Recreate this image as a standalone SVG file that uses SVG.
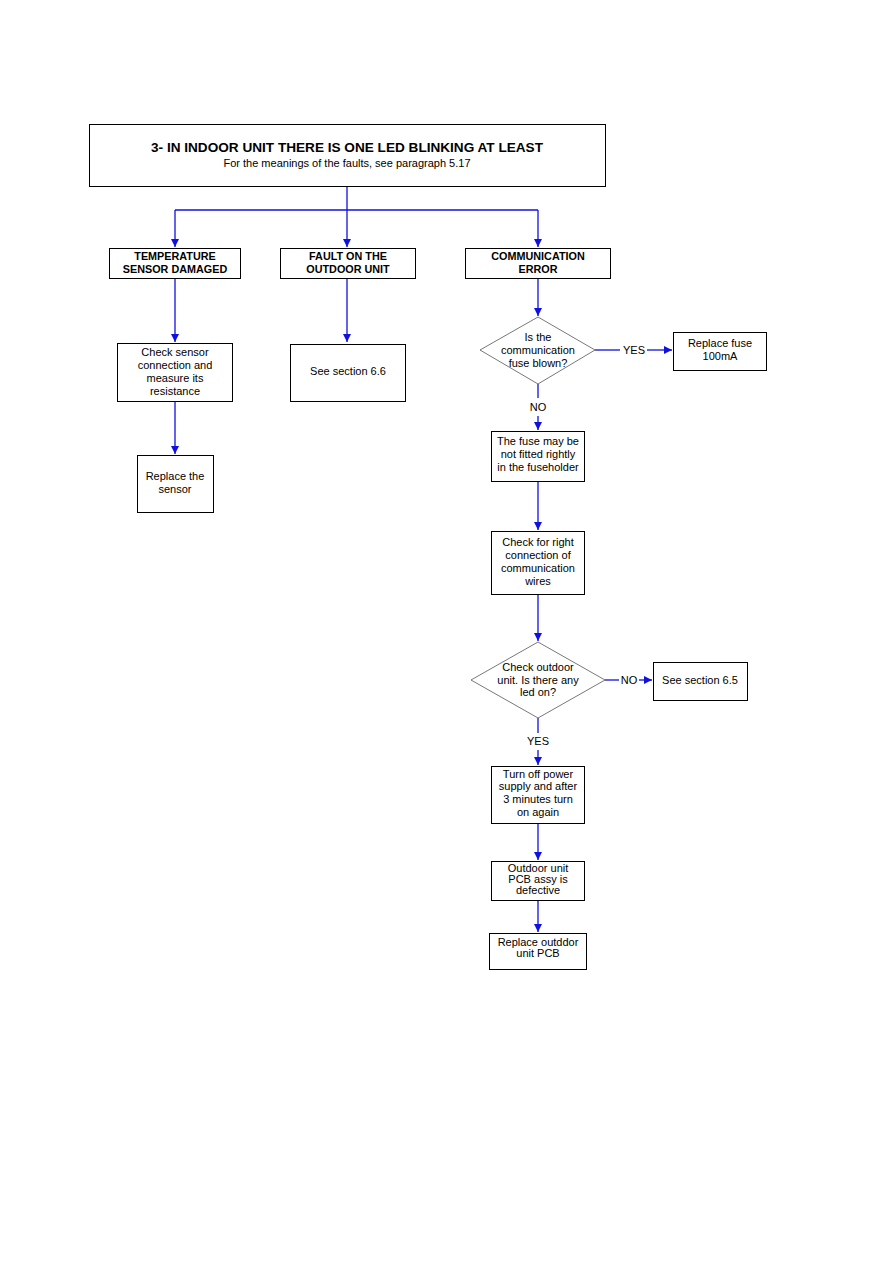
<svg xmlns="http://www.w3.org/2000/svg" width="893" height="1263" viewBox="0 0 893 1263">
<style>
.box{fill:#fff;stroke:#000;stroke-width:1}
.dia{fill:#fff;stroke:#555;stroke-width:0.8}
.ln{fill:none;stroke:#1010e0;stroke-width:1.3}
text{font-family:"Liberation Sans",Arial,sans-serif;font-size:11px;fill:#000;text-anchor:middle}
.b{font-weight:bold;font-size:10.8px}
.t{font-weight:bold;font-size:13.6px}
.lbl{font-size:11px}
</style>
<defs>
<marker id="ah" viewBox="0 0 10 10" refX="10" refY="5" markerWidth="8" markerHeight="8" markerUnits="userSpaceOnUse" orient="auto">
<path d="M0,0 L10,5 L0,10 z" fill="#1010e0"/>
</marker>
</defs>
<rect width="893" height="1263" fill="#fff"/>
<g id="connectors">
<path class="ln" d="M347,186 V210"/>
<path class="ln" d="M175,210 H538"/>
<path class="ln" d="M175,210 V247" marker-end="url(#ah)"/>
<path class="ln" d="M347,210 V247" marker-end="url(#ah)"/>
<path class="ln" d="M538,210 V247" marker-end="url(#ah)"/>
<path class="ln" d="M175,278 V342" marker-end="url(#ah)"/>
<path class="ln" d="M347,278 V342" marker-end="url(#ah)"/>
<path class="ln" d="M175,401 V454" marker-end="url(#ah)"/>
<path class="ln" d="M538,278 V316" marker-end="url(#ah)"/>
<path class="ln" d="M595,350 H620"/>
<path class="ln" d="M647,350 H672" marker-end="url(#ah)"/>
<path class="ln" d="M538,384 V398"/>
<path class="ln" d="M538,416 V430" marker-end="url(#ah)"/>
<path class="ln" d="M538,481 V530" marker-end="url(#ah)"/>
<path class="ln" d="M538,594 V641" marker-end="url(#ah)"/>
<path class="ln" d="M605,680 H619"/>
<path class="ln" d="M639,680 H652" marker-end="url(#ah)"/>
<path class="ln" d="M538,718 V733"/>
<path class="ln" d="M538,750 V765" marker-end="url(#ah)"/>
<path class="ln" d="M538,823 V860" marker-end="url(#ah)"/>
<path class="ln" d="M538,900 V932" marker-end="url(#ah)"/>
<text class="lbl" x="634" y="354">YES</text>
<text class="lbl" x="538" y="411">NO</text>
<text class="lbl" x="629" y="684">NO</text>
<text class="lbl" x="538" y="745">YES</text>
</g>
<g id="title">
<rect class="box" x="89.5" y="124.5" width="516" height="62"/>
<text class="t" x="347" y="152">3- IN INDOOR UNIT THERE IS ONE LED BLINKING AT LEAST</text>
<text x="347" y="167">For the meanings of the faults, see paragraph 5.17</text>
</g>
<g id="temp">
<rect class="box" x="109.5" y="248.5" width="131" height="30"/>
<text class="b" x="175" y="260">TEMPERATURE</text>
<text class="b" x="175" y="273">SENSOR DAMAGED</text>
</g>
<g id="fault">
<rect class="box" x="280.5" y="248.5" width="135" height="30"/>
<text class="b" x="348" y="260">FAULT ON THE</text>
<text class="b" x="348" y="273">OUTDOOR UNIT</text>
</g>
<g id="comm">
<rect class="box" x="465.5" y="248.5" width="145" height="30"/>
<text class="b" x="538" y="260">COMMUNICATION</text>
<text class="b" x="538" y="273">ERROR</text>
</g>
<g id="checksensor">
<rect class="box" x="117.5" y="343.5" width="115" height="58"/>
<text x="175" y="356">Check sensor</text>
<text x="175" y="369">connection and</text>
<text x="175" y="382">measure its</text>
<text x="175" y="395">resistance</text>
</g>
<g id="replacesensor">
<rect class="box" x="137.5" y="455.5" width="76" height="57"/>
<text x="175" y="480">Replace the</text>
<text x="175" y="493">sensor</text>
</g>
<g id="see66">
<rect class="box" x="290.5" y="344.5" width="115" height="57"/>
<text x="348" y="375">See section 6.6</text>
</g>
<g id="fuseq">
<polygon class="dia" points="538,317 595,350 538,384 480,350"/>
<text x="538" y="341">Is the</text>
<text x="538" y="354">communication</text>
<text x="538" y="367">fuse blown?</text>
</g>
<g id="replacefuse">
<rect class="box" x="673.5" y="332.5" width="93" height="38"/>
<text x="720" y="347">Replace fuse</text>
<text x="720" y="360">100mA</text>
</g>
<g id="fusefit">
<rect class="box" x="491.5" y="431.5" width="93" height="50"/>
<text x="538" y="445">The fuse may be</text>
<text x="538" y="458">not fitted rightly</text>
<text x="538" y="471">in the fuseholder</text>
</g>
<g id="checkwires">
<rect class="box" x="491.5" y="531.5" width="93" height="63"/>
<text x="538" y="546">Check for right</text>
<text x="538" y="559">connection of</text>
<text x="538" y="572">communication</text>
<text x="538" y="585">wires</text>
</g>
<g id="outdoorq">
<polygon class="dia" points="538,642 605,680 538,718 471,680"/>
<text x="538" y="671">Check outdoor</text>
<text x="538" y="684">unit. Is there any</text>
<text x="538" y="696">led on?</text>
</g>
<g id="see65">
<rect class="box" x="653.5" y="662.5" width="94" height="38"/>
<text x="700" y="684">See section 6.5</text>
</g>
<g id="turnoff">
<rect class="box" x="491.5" y="766.5" width="93" height="57"/>
<text x="538" y="778">Turn off power</text>
<text x="538" y="790">supply and after</text>
<text x="538" y="803">3 minutes turn</text>
<text x="538" y="816">on again</text>
</g>
<g id="pcbdef">
<rect class="box" x="491.5" y="861.5" width="93" height="39"/>
<text x="538" y="872">Outdoor unit</text>
<text x="538" y="883">PCB assy is</text>
<text x="538" y="894">defective</text>
</g>
<g id="replacepcb">
<rect class="box" x="489.5" y="933.5" width="97" height="36"/>
<text x="538" y="946">Replace outddor</text>
<text x="538" y="957">unit PCB</text>
</g>
</svg>
